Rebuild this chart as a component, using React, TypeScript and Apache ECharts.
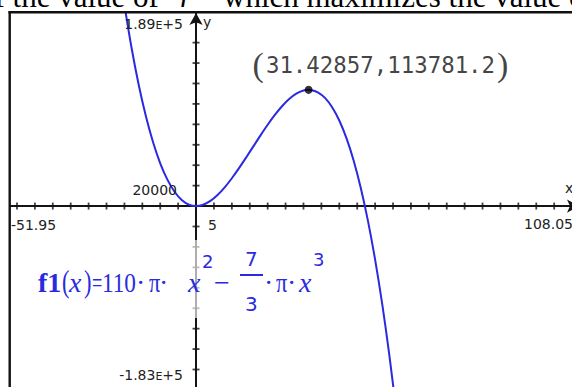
import React, { useEffect, useRef } from "react";
import * as echarts from "echarts";

// f1(x) = 110·π·x² − (7/3)·π·x³
const curveX = [-20, -18, -16, -14, -12, -10, -8, -6, -4, -2, 0, 2, 4, 6, 8, 10, 12, 14, 16, 18, 20, 22, 24, 26, 28, 30, 31.42857, 32, 34, 36, 38, 40, 42, 44, 46, 48, 50, 52, 54, 56];
const curveY = [196873, 154717, 118492, 87846, 62430, 41888, 25870, 14024, 5998, 1441, 0, 1324, 5060, 10857, 18364, 27227, 37096, 47618, 58442, 69216, 79587, 89204, 97716, 104770, 110014, 113097, 113781.2, 113667, 111371, 105859, 96777, 83776, 66501, 44602, 17727, -14476, -52360, -96274, -146573, -203608];

const maxPoint: [number, number] = [31.42857, 113781.2];

const xMin = -51.95;
const xMax = 108.05;
const yMin = -183000;
const yMax = 189000;

const xTicks = [-50, -45, -40, -35, -30, -25, -20, -15, -10, -5, 5, 10, 15, 20, 25, 30, 35, 40, 45, 50, 55, 60, 65, 70, 75, 80, 85, 90, 95, 100, 105];
const yTicks = [-180000, -160000, -140000, -120000, -100000, -80000, -60000, -40000, -20000, 20000, 40000, 60000, 80000, 100000, 120000, 140000, 160000, 180000];

const BLUE = "#2a2ae0";
const AX = "#141414";
const LBL = "#222222";
const LF = "DejaVu Sans";
const SERIF = "Liberation Serif";

export default function App() {
  const ref = useRef<HTMLDivElement>(null);
  useEffect(() => {
    if (!ref.current) return;
    const chart = echarts.init(ref.current, undefined, { renderer: "svg" });
    const curve = curveX.map((x, i) => [x, curveY[i]]);
    const labelText = (text: string, x: number, y: number, align: string) => ({
      type: "text",
      z: 100,
      style: { text, x, y, align, verticalAlign: "middle", font: `14px "${LF}"`, fill: LBL },
    });
    const eText = (a: string, b: string, x: number, y: number) => ({
      type: "text",
      z: 100,
      style: {
        text: `{n|${a}}{e|E}{n|${b}}`,
        x,
        y,
        align: "right",
        verticalAlign: "middle",
        rich: {
          n: { fontFamily: LF, fontSize: 14, fill: LBL, color: LBL, verticalAlign: "bottom" },
          e: { fontFamily: LF, fontSize: 11, fill: LBL, color: LBL, verticalAlign: "bottom" },
        },
      },
    });
    const ft = (text: string, x: number, y: number, font: string, sx = 1) => ({
      type: "text",
      z: 101,
      x,
      y,
      scaleX: sx,
      style: { text, x: 0, y: 0, align: "left", verticalAlign: "middle", font, fill: BLUE },
    });
    const F28 = `28px "${SERIF}"`;
    const I28 = `italic 28px "${SERIF}"`;
    chart.setOption({
      animation: false,
      backgroundColor: "#ffffff",
      grid: { left: 10, top: 13, width: 573, height: 380, containLabel: false, outerBoundsMode: "none" },
      xAxis: {
        type: "value",
        min: xMin,
        max: xMax,
        axisLine: { show: true, onZero: true, symbol: ["none", "arrow"], symbolSize: [10, 12], symbolOffset: [0, -4], lineStyle: { color: AX, width: 2 } },
        axisTick: { show: false },
        axisLabel: { show: false },
        splitLine: { show: false },
      },
      yAxis: {
        type: "value",
        min: yMin,
        max: yMax,
        axisLine: { show: true, onZero: true, symbol: ["none", "arrow"], symbolSize: [10, 12], lineStyle: { color: AX, width: 2 } },
        axisTick: { show: false },
        axisLabel: { show: false },
        splitLine: { show: false },
      },
      series: [
        {
          type: "scatter",
          data: xTicks.map((x) => [x, 0]),
          symbol: "rect",
          symbolSize: [1.8, 7],
          itemStyle: { color: AX },
          silent: true,
          z: 3,
        },
        {
          type: "scatter",
          data: yTicks.map((y) => [0, y]),
          symbol: "rect",
          symbolSize: [7, 1.8],
          itemStyle: { color: AX },
          silent: true,
          z: 3,
        },
        {
          type: "line",
          data: curve,
          smooth: 0.3,
          showSymbol: false,
          clip: true,
          lineStyle: { color: BLUE, width: 2 },
          z: 4,
        },
        {
          type: "scatter",
          data: [maxPoint],
          symbol: "circle",
          symbolSize: 8,
          itemStyle: { color: "#000" },
          z: 5,
          label: {
            show: true,
            position: [-52, -21],
            align: "left",
            verticalAlign: "middle",
            formatter: (p: any) => `{p|(}{v|${p.value[0]},${p.value[1]}}{p|)}`,
            rich: {
              p: { fontFamily: SERIF, fontSize: 34, color: "#111", verticalAlign: "middle" },
              v: { fontFamily: "DejaVu Sans Mono", fontSize: 22.4, color: "#111", verticalAlign: "middle", padding: [0, 2, 0, 2] },
            },
          },
        },
      ],
      graphic: [
        // sentence fragment above the frame (clipped at the page top)
        { type: "text", z: 100, style: { text: "of the value of", x: -21, y: -4, verticalAlign: "middle", font: `31px "${SERIF}"`, fill: "#000" } },
        { type: "text", z: 100, style: { text: "r", x: 180, y: -4, verticalAlign: "middle", font: `italic 31px "${SERIF}"`, fill: "#000" } },
        { type: "text", z: 100, style: { text: "which maximizes the value of", x: 223, y: -4, verticalAlign: "middle", font: `31px "${SERIF}"`, fill: "#000" } },
        // frame
        { type: "line", z: 100, shape: { x1: 9.7, y1: 11, x2: 9.7, y2: 387 }, style: { stroke: "#111", lineWidth: 2.4 } },
        { type: "line", z: 100, shape: { x1: 8.5, y1: 12.2, x2: 572, y2: 12.2 }, style: { stroke: "#111", lineWidth: 2.4 } },
        // axis annotations
        eText("1.89", "+5", 183, 24),
        labelText("y", 203, 22, "left"),
        labelText("20000", 177, 190, "right"),
        labelText("-51.95", 11, 225, "left"),
        labelText("5", 208, 225, "left"),
        labelText("108.05", 524, 224, "left"),
        labelText("x", 565, 188, "left"),
        eText("-1.83", "+5", 183, 375),
        // formula box
        { type: "rect", z: 99, shape: { x: 30, y: 240, width: 295, height: 78 }, style: { fill: "rgba(255,255,255,0.65)" } },
        ft("f1", 38, 282.5, `bold 28px "${SERIF}"`),
        ft("(", 62, 281, `32px "${SERIF}"`, 0.7),
        ft("x", 69, 282.5, I28),
        ft(")", 84, 281, `32px "${SERIF}"`, 0.7),
        ft("=", 92, 282.5, F28, 0.65),
        ft("110", 102, 282.5, F28, 0.83),
        ft("·", 136, 282.5, F28),
        ft("π", 149, 282.5, F28, 0.8),
        ft("·", 159, 282.5, F28),
        ft("x", 188, 282.5, I28),
        ft("2", 202, 261, `18px "${LF}"`),
        ft("−", 214, 282.5, F28),
        ft("7", 245, 259, `20px "${LF}"`),
        { type: "line", z: 101, shape: { x1: 240, y1: 275, x2: 263, y2: 275 }, style: { stroke: BLUE, lineWidth: 2 } },
        ft("3", 245, 304, `20px "${LF}"`),
        ft("·", 264, 282.5, F28),
        ft("π", 276, 282.5, F28, 0.8),
        ft("·", 287, 282.5, F28),
        ft("x", 299, 282.5, I28),
        ft("3", 313, 259, `18px "${LF}"`),
      ],
    });
    return () => chart.dispose();
  }, []);
  return (
    <div
      ref={ref}
      style={{ position: "absolute", left: 0, top: 0, width: 572, height: 387, overflow: "hidden", background: "#fff" }}
    />
  );
}
